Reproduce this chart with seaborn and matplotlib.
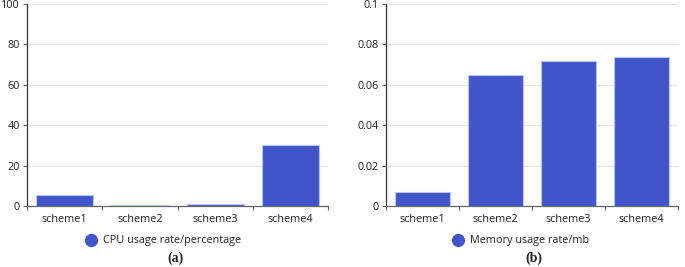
import matplotlib
matplotlib.use("Agg")
import matplotlib.pyplot as plt
from matplotlib.lines import Line2D
import seaborn as sns
import pandas as pd

schemes = ["scheme1", "scheme2", "scheme3", "scheme4"]
cpu_usage = [5.2, 0.5, 1.2, 30.0]
mem_usage = [0.007, 0.065, 0.072, 0.074]
cpu_label = "CPU usage rate/percentage"
mem_label = "Memory usage rate/mb"
cpu_ticks = [0, 20, 40, 60, 80, 100]
mem_ticks = [0, 0.02, 0.04, 0.06, 0.08, 0.1]
mem_ticklabels = ["0", "0.02", "0.04", "0.06", "0.08", "0.1"]
panel_labels = ["(a)", "(b)"]

sns.set_theme(style="white")
plt.rcParams["font.family"] = ["Open Sans", "DejaVu Sans"]

BAR = "#4255C8"
EDGE = "#B8C4F0"

fig = plt.figure(figsize=(6.85, 2.67), dpi=100)
ax1 = fig.add_axes([27/685, 1-206/267, (328-27)/685, (206-4)/267])
ax2 = fig.add_axes([386/685, 1-206/267, (678-386)/685, (206-4)/267])

def panel(ax, vals, ticks, ticklabels, ymax, leg, lab, legx, labx):
    df = pd.DataFrame({"scheme": schemes, "value": vals})
    sns.barplot(data=df, x="scheme", y="value", ax=ax, color=BAR, width=0.76,
                edgecolor=EDGE, linewidth=0.8, saturation=1, zorder=3)
    ax.set_xlim(-0.5, 3.5)
    ax.set_ylim(0, ymax)
    ax.set_yticks(ticks)
    ax.set_yticklabels(ticklabels)
    ax.set_xlabel("")
    ax.set_ylabel("")
    ax.grid(axis="y", color="#E6E6E6", linewidth=0.9, zorder=0)
    ax.set_axisbelow(True)
    for s in ["top", "right"]:
        ax.spines[s].set_visible(False)
    ax.spines["left"].set_color("#333333")
    ax.spines["bottom"].set_color("#666666")
    ax.spines["left"].set_linewidth(0.9)
    ax.spines["bottom"].set_linewidth(0.9)
    ax.tick_params(axis="y", length=3, width=0.8, color="#666666", labelsize=7.8,
                   labelcolor="#222222", pad=2, left=True)
    ax.tick_params(axis="x", which="major", length=0, labelsize=7.8, labelcolor="#222222", pad=6)
    ax.set_xticks([-0.5, 0.5, 1.5, 2.5, 3.5], minor=True)
    ax.tick_params(axis="x", which="minor", length=3, width=0.8, color="#666666", bottom=True)
    h = Line2D([], [], marker="o", linestyle="", color=BAR, markersize=8.5)
    fig.legend([h], [leg], loc="center", bbox_to_anchor=(legx/685, 1-241/267),
               frameon=False, fontsize=7.8, handletextpad=0.5, borderaxespad=0,
               handlelength=1.2)
    fig.text(labx/685, 1-258/267, lab, ha="center", va="center", fontsize=10,
             fontweight="bold", family=["Liberation Serif", "DejaVu Serif"])

panel(ax1, cpu_usage, cpu_ticks, [str(t) for t in cpu_ticks], 100, cpu_label, panel_labels[0], 163, 175)
panel(ax2, mem_usage, mem_ticks, mem_ticklabels, 0.1, mem_label, panel_labels[1], 520, 534)

fig.savefig("out.png", dpi=100)
